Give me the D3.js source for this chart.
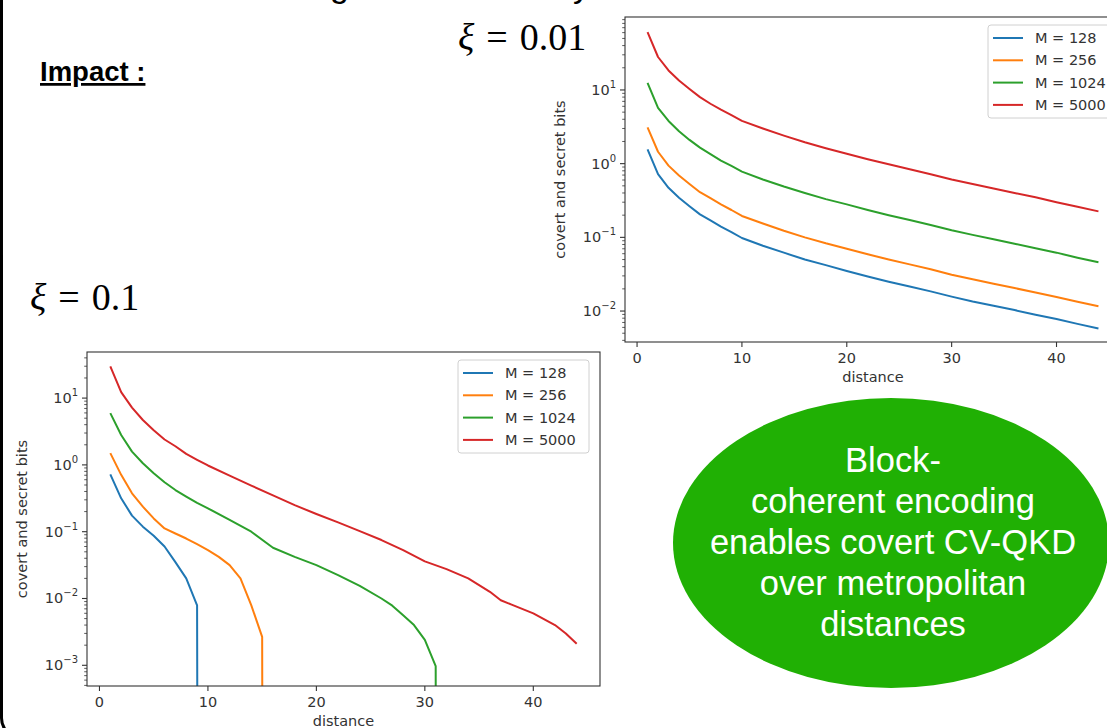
<!DOCTYPE html>
<html>
<head>
<meta charset="utf-8">
<script src="https://cdn.jsdelivr.net/npm/d3@7"></script>
<style>
  body { margin: 0; background: #fff; }
  svg { display: block; }
</style>
</head>
<body>
<svg id="slide" width="1107" height="728"></svg>
<script>
// series labels / colours (matplotlib tab10)
const seriesNames = ["M = 128", "M = 256", "M = 1024", "M = 5000"];
const seriesColors = ["#1f77b4", "#ff7f0e", "#2ca02c", "#d62728"];
const xTicks = [0, 10, 20, 30, 40];

// xi = 0.01 (plot top right)
const distA = [1, 2, 3, 4, 5, 6, 7, 8, 9, 10, 12, 14, 16, 18, 20, 22, 24, 26, 28, 30, 32, 34, 36, 38, 40, 42, 44];
const a128 = [1.56, 0.72, 0.47, 0.345, 0.265, 0.205, 0.17, 0.14, 0.118, 0.098, 0.077, 0.062, 0.05, 0.042, 0.035, 0.0295, 0.025, 0.0215, 0.0185, 0.0157, 0.0135, 0.0118, 0.0103, 0.0089, 0.0078, 0.0067, 0.0058];
const a256 = [3.1, 1.45, 0.94, 0.69, 0.53, 0.41, 0.34, 0.28, 0.235, 0.195, 0.154, 0.123, 0.1, 0.083, 0.07, 0.059, 0.05, 0.043, 0.037, 0.031, 0.027, 0.0235, 0.0205, 0.0178, 0.0155, 0.0134, 0.0116];
const a1024 = [12.5, 5.7, 3.8, 2.75, 2.1, 1.65, 1.35, 1.1, 0.93, 0.78, 0.61, 0.49, 0.4, 0.33, 0.28, 0.235, 0.2, 0.172, 0.147, 0.125, 0.108, 0.094, 0.082, 0.071, 0.062, 0.053, 0.046];
const a5000 = [61, 28, 18.4, 13.4, 10.3, 8.0, 6.5, 5.4, 4.55, 3.8, 3.0, 2.4, 1.95, 1.62, 1.36, 1.15, 0.98, 0.84, 0.72, 0.61, 0.53, 0.46, 0.4, 0.35, 0.3, 0.26, 0.225];

// xi = 0.1 (plot bottom left), 0 = rate vanished (clipped on log axis)
const distB128 = [1, 2, 3, 4, 5, 6, 7, 8, 9, 10];
const b128 = [0.72, 0.316, 0.174, 0.119, 0.087, 0.06, 0.035, 0.02, 0.0079, 0];
const distB256 = [1, 2, 3, 4, 5, 6, 7, 8, 9, 10, 11, 12, 13, 14, 15, 16];
const b256 = [1.5, 0.71, 0.376, 0.237, 0.158, 0.112, 0.094, 0.079, 0.065, 0.053, 0.042, 0.0316, 0.02, 0.0079, 0.00266, 0];
const distB1024 = [1, 2, 3, 4, 5, 6, 7, 8, 9, 10, 12, 14, 16, 18, 20, 22, 24, 26, 27, 28, 29, 30, 31, 32];
const b1024 = [5.96, 2.8, 1.58, 1.06, 0.75, 0.55, 0.42, 0.335, 0.27, 0.224, 0.15, 0.1, 0.0575, 0.042, 0.0316, 0.0224, 0.0155, 0.01, 0.0078, 0.0056, 0.004, 0.0024, 0.00097, 0];
const distB5000 = [1, 2, 3, 4, 5, 6, 7, 8, 9, 10, 12, 14, 16, 18, 20, 22, 24, 26, 28, 30, 32, 34, 36, 37, 38, 40, 42, 43, 44];
const b5000 = [29.9, 12.3, 7.2, 4.7, 3.3, 2.4, 1.9, 1.46, 1.19, 0.98, 0.69, 0.49, 0.35, 0.25, 0.184, 0.138, 0.102, 0.075, 0.053, 0.036, 0.0275, 0.02, 0.0126, 0.0094, 0.0081, 0.006, 0.004, 0.003, 0.0021];

const bubbleLines = ["Block-", "coherent encoding", "enables covert CV-QKD", "over metropolitan", "distances"];

const svg = d3.select("#slide");
const sans = "'Liberation Sans', Arial, Helvetica, sans-serif";
const mpl = "'DejaVu Sans', sans-serif";
const serif = "'Liberation Serif', 'Times New Roman', serif";

// slide frame (rounded box, only left edge visible)
svg.append("rect")
    .attr("x", 1.5).attr("y", -60)
    .attr("width", 1300).attr("height", 798)
    .attr("rx", 20)
    .attr("fill", "none")
    .attr("stroke", "#000")
    .attr("stroke-width", 3);

// bits of the title line cut off at the top of the slide
svg.append("text").attr("x", 330).attr("y", -3).text("g")
    .style("font-family", sans).style("font-size", "34px");
svg.append("text").attr("x", 573).attr("y", -3).text("y")
    .style("font-family", sans).style("font-size", "34px");

// "Impact :"
svg.append("text")
    .attr("x", 40).attr("y", 81)
    .text("Impact :")
    .style("font-family", sans)
    .style("font-size", "27.5px")
    .style("font-weight", "bold")
    .style("text-decoration", "underline");

function xiLabel(x, y, val) {
    const t = svg.append("text").attr("x", x).attr("y", y)
        .style("font-family", serif).style("font-size", "38px");
    t.append("tspan").style("font-style", "italic").text("ξ");
    t.append("tspan").attr("dx", 12).text("=");
    t.append("tspan").attr("dx", 12).text(val);
}
xiLabel(458, 50, "0.01");
xiLabel(30, 310, "0.1");

function drawPlot(cfg) {
    const g = svg.append("g");
    const x = d3.scaleLinear().domain([-1.15, 46.15]).range([cfg.left, cfg.right]);
    const y = d3.scaleLog()
        .domain([Math.pow(10, cfg.logMin), Math.pow(10, cfg.logMax)])
        .range([cfg.bottom, cfg.top]);
    const yv = v => v > 0 ? y(v) : cfg.bottom + 5000;

    const clipId = "clip" + cfg.id;
    svg.append("clipPath").attr("id", clipId)
        .append("rect")
        .attr("x", cfg.left).attr("y", cfg.top)
        .attr("width", cfg.right - cfg.left).attr("height", cfg.bottom - cfg.top);

    const line = d3.line()
        .x(d => x(d[0]))
        .y(d => yv(d[1]));

    g.append("g").attr("clip-path", `url(#${clipId})`)
        .selectAll("path")
        .data(cfg.series)
        .enter().append("path")
        .attr("d", s => line(d3.zip(s.dist, s.vals)))
        .attr("fill", "none")
        .attr("stroke", (s, i) => seriesColors[i])
        .attr("stroke-width", 2)
        .attr("stroke-linejoin", "round");

    // spines
    g.append("rect")
        .attr("x", cfg.left).attr("y", cfg.top)
        .attr("width", cfg.right - cfg.left).attr("height", cfg.bottom - cfg.top)
        .attr("fill", "none").attr("stroke", "#333").attr("stroke-width", 1.1);

    // x ticks
    xTicks.forEach(t => {
        g.append("line")
            .attr("x1", x(t)).attr("x2", x(t))
            .attr("y1", cfg.bottom).attr("y2", cfg.bottom + 5)
            .attr("stroke", "#333").attr("stroke-width", 1.1);
        g.append("text")
            .attr("x", x(t)).attr("y", cfg.bottom + 21)
            .attr("text-anchor", "middle")
            .style("font-family", mpl).style("font-size", "14.5px").style("fill", "#333")
            .text(t);
    });

    // y ticks, log decades + minor ticks
    for (let k = Math.floor(cfg.logMin); k <= Math.ceil(cfg.logMax); k++) {
        for (let m = 1; m <= 9; m++) {
            const v = m * Math.pow(10, k);
            const lv = Math.log10(v);
            if (lv < cfg.logMin || lv > cfg.logMax) continue;
            const major = m === 1;
            g.append("line")
                .attr("x1", cfg.left).attr("x2", cfg.left - (major ? 5 : 2.8))
                .attr("y1", y(v)).attr("y2", y(v))
                .attr("stroke", "#333").attr("stroke-width", major ? 1.1 : 0.8);
            if (major) {
                const t = g.append("text")
                    .attr("x", cfg.left - 9).attr("y", y(v) + 5)
                    .attr("text-anchor", "end")
                    .style("font-family", mpl).style("font-size", "14.5px").style("fill", "#333");
                t.append("tspan").text("10");
                t.append("tspan").attr("dy", -7).style("font-size", "10px")
                    .text(k < 0 ? "\u2212" + (-k) : k);
            }
        }
    }

    // axis labels
    g.append("text")
        .attr("x", (cfg.left + cfg.right) / 2).attr("y", cfg.bottom + 40)
        .attr("text-anchor", "middle")
        .style("font-family", mpl).style("font-size", "14.5px").style("fill", "#333")
        .text("distance");
    g.append("text")
        .attr("transform", `translate(${cfg.yLabelX},${(cfg.top + cfg.bottom) / 2}) rotate(-90)`)
        .attr("text-anchor", "middle")
        .style("font-family", mpl).style("font-size", "14.5px").style("fill", "#333")
        .text("covert and secret bits");

    // legend
    const lg = g.append("g").attr("transform", `translate(${cfg.legendX},${cfg.top + 8})`);
    lg.append("rect")
        .attr("width", 131).attr("height", 93).attr("rx", 3)
        .attr("fill", "#fff").attr("fill-opacity", 0.8)
        .attr("stroke", "#d0d0d0").attr("stroke-width", 1);
    seriesNames.forEach((name, i) => {
        const ry = 13 + i * 22.3;
        lg.append("line")
            .attr("x1", 5).attr("x2", 35).attr("y1", ry).attr("y2", ry)
            .attr("stroke", seriesColors[i]).attr("stroke-width", 2);
        lg.append("text")
            .attr("x", 47).attr("y", ry + 5)
            .style("font-family", mpl).style("font-size", "14.5px").style("fill", "#333")
            .text(name);
    });
}

drawPlot({
    id: "A", left: 625, right: 1121, top: 17, bottom: 342,
    logMin: -2.42, logMax: 1.99, yLabelX: 565, legendX: 988,
    series: [
        { dist: distA, vals: a128 },
        { dist: distA, vals: a256 },
        { dist: distA, vals: a1024 },
        { dist: distA, vals: a5000 }
    ]
});

drawPlot({
    id: "B", left: 87, right: 600, top: 352, bottom: 686,
    logMin: -3.31, logMax: 1.69, yLabelX: 27, legendX: 458,
    series: [
        { dist: distB128, vals: b128 },
        { dist: distB256, vals: b256 },
        { dist: distB1024, vals: b1024 },
        { dist: distB5000, vals: b5000 }
    ]
});

// green bubble
svg.append("ellipse")
    .attr("cx", 891).attr("cy", 543)
    .attr("rx", 218).attr("ry", 145)
    .attr("fill", "#20b004");
svg.append("g").selectAll("text")
    .data(bubbleLines)
    .enter().append("text")
    .attr("x", 893)
    .attr("y", (d, i) => 472 + i * 41)
    .attr("text-anchor", "middle")
    .style("font-family", sans).style("font-size", "34.5px").style("fill", "#fff")
    .text(d => d);
</script>
</body>
</html>
